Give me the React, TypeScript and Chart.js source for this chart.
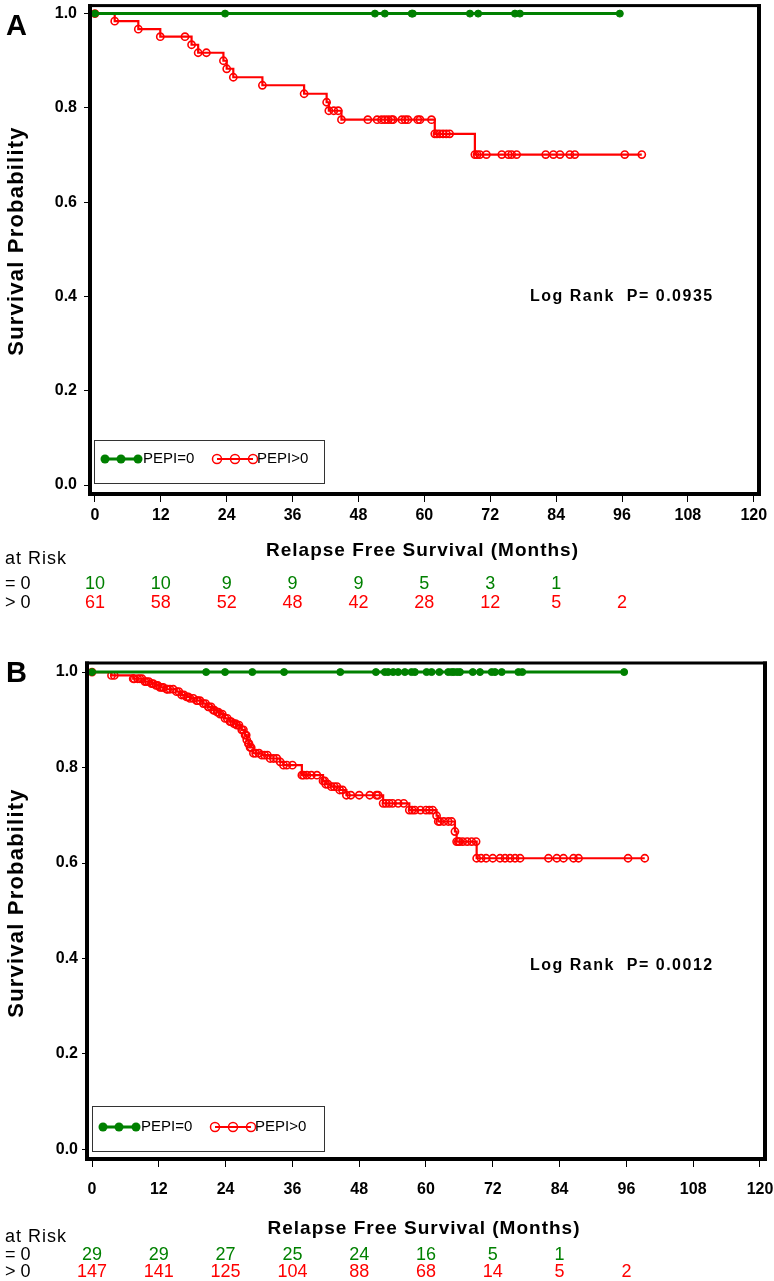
import React, { useEffect, useRef } from "react";
import { Chart, registerables } from "chart.js";

Chart.register(...registerables);

const FONT = "'Liberation Sans', Arial, Helvetica, sans-serif";
const GREEN = "#008000";
const RED = "#ff0000";

// ---- shared axis / table labels ----
const X_TICKS = [0, 12, 24, 36, 48, 60, 72, 84, 96, 108, 120];
const Y_TICKS = [0, 0.2, 0.4, 0.6, 0.8, 1.0];
const AT_RISK_TIMES = [0, 12, 24, 36, 48, 60, 72, 84, 96];
const LEGEND_LABELS = ["PEPI=0", "PEPI>0"];
const ROW_LABELS = ["= 0", "> 0"];
const X_TITLE = "Relapse Free Survival (Months)";
const Y_TITLE = "Survival Probability";

// ---- Panel A data ----
const A_GREEN_AT_RISK = [10, 10, 9, 9, 9, 5, 3, 1];
const A_RED_AT_RISK = [61, 58, 52, 48, 42, 28, 12, 5, 2];
const A_GREEN_CENSOR = [23.7, 51.0, 52.8, 57.7, 57.9, 68.3, 69.8, 76.5, 77.4, 95.6];
const A_RED_EVENT_T = [3.6, 7.9, 11.9, 17.6, 18.8, 23.4, 24.0, 25.2, 30.5, 38.1, 42.2, 42.6, 44.9, 61.9, 69.2];
const A_RED_EVENT_S = [0.984, 0.967, 0.951, 0.934, 0.917, 0.9, 0.883, 0.865, 0.848, 0.83, 0.812, 0.794, 0.775, 0.745, 0.701];
const A_RED_CENSOR = [16.4, 20.3, 43.5, 44.3, 49.7, 51.4, 52.2, 52.8, 53.4, 54.0, 54.3, 55.9, 56.5, 57.0, 58.8, 59.2, 61.3,
  62.3, 62.8, 63.4, 64.0, 64.6, 69.6, 70.1, 71.3, 74.1, 75.3, 75.9, 76.8, 82.1, 83.5, 84.7, 86.5, 87.4, 96.5, 99.6];
const A_P = "0.0935";

// ---- Panel B data ----
const B_GREEN_AT_RISK = [29, 29, 27, 25, 24, 16, 5, 1];
const B_RED_AT_RISK = [147, 141, 125, 104, 88, 68, 14, 5, 2];
const B_GREEN_CENSOR = [20.5, 23.9, 28.8, 34.5, 44.6, 51.0, 52.6, 53.2, 54.1, 55.0, 56.2, 57.4, 58.0, 60.1, 61.0, 62.4,
  64.0, 64.6, 65.0, 65.6, 66.1, 68.4, 69.7, 71.8, 72.4, 73.6, 76.6, 77.3, 95.6];
const B_RED_EVENT_T = [3.5, 7.4, 9.5, 10.7, 11.5, 12.2, 13.4, 15.2, 16.1, 17.0, 17.6, 18.8, 20.0, 20.9, 21.8, 22.5, 23.0,
  23.9, 24.8, 25.5, 26.0, 26.9, 27.5, 27.8, 28.1, 28.4, 29.0, 30.5, 32.0, 33.8, 34.4, 37.7, 41.5, 42.0, 43.0, 44.5, 45.7,
  52.3, 57.0, 61.9, 62.2, 65.2, 65.5, 69.1];
const B_RED_EVENT_S = [0.993, 0.986, 0.98, 0.976, 0.972, 0.968, 0.964, 0.959, 0.952, 0.948, 0.945, 0.94, 0.934, 0.927,
  0.92, 0.916, 0.912, 0.903, 0.896, 0.892, 0.889, 0.879, 0.868, 0.858, 0.85, 0.842, 0.83, 0.826, 0.819, 0.812, 0.805,
  0.784, 0.772, 0.765, 0.76, 0.753, 0.742, 0.725, 0.711, 0.699, 0.687, 0.666, 0.645, 0.61];
const B_RED_CENSOR = [4.0, 7.6, 8.2, 8.6, 9.0, 9.8, 10.2, 11.0, 11.8, 12.5, 12.8, 13.6, 14.0, 14.6, 15.6, 16.5, 17.3, 18.2,
  19.0, 19.4, 20.4, 21.0, 21.4, 22.0, 22.7, 23.4, 24.3, 25.0, 25.8, 26.4, 27.2, 27.7, 28.2, 28.6, 29.4, 30.0, 31.0, 31.5,
  32.6, 33.2, 35.0, 36.0, 38.0, 38.6, 39.4, 40.4, 41.8, 42.4, 43.5, 44.0, 45.0, 46.5, 48.0, 49.9, 51.1, 51.4, 52.8, 53.4,
  54.0, 55.0, 56.0, 57.5, 58.0, 59.0, 60.0, 60.6, 61.2, 62.5, 63.2, 64.0, 64.6, 65.8, 66.0, 66.6, 67.4, 68.2, 69.0, 69.9,
  70.8, 72.0, 73.3, 74.2, 75.1, 76.0, 76.9, 82.0, 83.5, 84.7, 86.5, 87.4, 96.3, 99.3];
const B_P = "0.0012";

type Pt = { x: number; y: number };

function buildKM(eventT: number[], eventS: number[], censorT: number[]): Pt[] {
  const survAt = (t: number) => {
    let s = 1;
    for (let i = 0; i < eventT.length; i++) if (eventT[i] <= t) s = eventS[i];
    return s;
  };
  const pts: (Pt & { k: number })[] = [{ x: 0, y: 1, k: 0 }];
  eventT.forEach((t, i) => pts.push({ x: t, y: eventS[i], k: 0 }));
  censorT.forEach((t) => pts.push({ x: t, y: survAt(t), k: 1 }));
  pts.sort((a, b) => a.x - b.x || a.k - b.k);
  return pts.map((p) => ({ x: p.x, y: p.y }));
}

type Cfg = {
  letter: string;
  h: number;
  area: { left: number; top: number; right: number; bottom: number };
  xMin: number; xMax: number; yMin: number; yMax: number;
  green: Pt[]; red: Pt[];
  greenRisk: number[]; redRisk: number[];
  p: string;
  letterY: number; yTitleY: number;
  logX: number; logY: number;
  legY: number; legH: number; legX: number; legW: number; legItemY: number;
  xTitleY: number; atRiskY: number; row1Y: number; row2Y: number;
  xPad: number; yPad: number; yTick: number;
};

const PANELS: Cfg[] = [
  {
    letter: "A", h: 625,
    area: { left: 90, top: 2, right: 759, bottom: 494 },
    xMin: -0.9, xMax: 120.95, yMin: -0.019, yMax: 1.017,
    green: buildKM([], [], A_GREEN_CENSOR), red: buildKM(A_RED_EVENT_T, A_RED_EVENT_S, A_RED_CENSOR),
    greenRisk: A_GREEN_AT_RISK, redRisk: A_RED_AT_RISK, p: A_P,
    letterY: 35, yTitleY: 241, logX: 530, logY: 297,
    legX: 94, legY: 440, legW: 230, legH: 43, legItemY: 459,
    xTitleY: 551, atRiskY: 559, row1Y: 584, row2Y: 603,
    xPad: 4, yPad: 7, yTick: 6,
  },
  {
    letter: "B", h: 656,
    area: { left: 87, top: 38, right: 765, bottom: 534 },
    xMin: -0.9, xMax: 120.9, yMin: -0.02, yMax: 1.019,
    green: buildKM([], [], B_GREEN_CENSOR), red: buildKM(B_RED_EVENT_T, B_RED_EVENT_S, B_RED_CENSOR),
    greenRisk: B_GREEN_AT_RISK, redRisk: B_RED_AT_RISK, p: B_P,
    letterY: 57, yTitleY: 278, logX: 530, logY: 341,
    legX: 92, legY: 481, legW: 232, legH: 45, legItemY: 502,
    xTitleY: 604, atRiskY: 612, row1Y: 630, row2Y: 647,
    xPad: 13, yPad: 4, yTick: 5,
  },
];

function txt(ctx: CanvasRenderingContext2D, s: string, x: number, y: number, font: string, color: string,
  align: CanvasTextAlign = "left", spacing = 0) {
  ctx.font = font;
  ctx.fillStyle = color;
  ctx.textAlign = align;
  ctx.textBaseline = "middle";
  (ctx as any).letterSpacing = spacing + "px";
  ctx.fillText(s, x, y);
  (ctx as any).letterSpacing = "0px";
}

function Panel({ cfg }: { cfg: Cfg }) {
  const ref = useRef<HTMLCanvasElement>(null);
  useEffect(() => {
    const canvas = ref.current!;
    const overlay = {
      id: "overlay",
      afterDraw(chart: any) {
        const ctx: CanvasRenderingContext2D = chart.ctx;
        const { left, top, right, bottom } = chart.chartArea;
        const xs = chart.scales.x;
        ctx.save();
        // frame
        ctx.fillStyle = "#000";
        ctx.fillRect(left - 2, top - 1.5, right - left + 4, 3);
        ctx.fillRect(left - 2, bottom - 2, right - left + 4, 4);
        ctx.fillRect(left - 2, top - 1.5, 4, bottom - top + 3.5);
        ctx.fillRect(right - 2, top - 1.5, 4, bottom - top + 3.5);
        // panel letter
        ctx.font = `bold 29px ${FONT}`;
        ctx.fillStyle = "#000";
        ctx.textAlign = "left";
        ctx.textBaseline = "alphabetic";
        ctx.fillText(cfg.letter, 6, cfg.letterY);
        // y title
        ctx.save();
        ctx.translate(17, cfg.yTitleY);
        ctx.rotate(-Math.PI / 2);
        txt(ctx, Y_TITLE, 0, 0, `bold 22px ${FONT}`, "#000", "center", 1.2);
        ctx.restore();
        // log rank
        txt(ctx, `Log Rank  P= ${cfg.p}`, cfg.logX, cfg.logY, `bold 16px ${FONT}`, "#000", "left", 1.5);
        // legend
        ctx.strokeStyle = "#333";
        ctx.lineWidth = 1;
        ctx.strokeRect(cfg.legX + 0.5, cfg.legY + 0.5, cfg.legW, cfg.legH);
        const iy = cfg.legItemY;
        ctx.strokeStyle = GREEN;
        ctx.lineWidth = 3;
        ctx.beginPath(); ctx.moveTo(cfg.legX + 10, iy); ctx.lineTo(cfg.legX + 45, iy); ctx.stroke();
        ctx.fillStyle = GREEN;
        [11, 27, 44].forEach((d) => { ctx.beginPath(); ctx.arc(cfg.legX + d, iy, 4.5, 0, Math.PI * 2); ctx.fill(); });
        txt(ctx, LEGEND_LABELS[0], cfg.legX + 49, iy, `15px ${FONT}`, "#000");
        ctx.strokeStyle = RED;
        ctx.lineWidth = 2;
        ctx.beginPath(); ctx.moveTo(cfg.legX + 123, iy); ctx.lineTo(cfg.legX + 159, iy); ctx.stroke();
        ctx.lineWidth = 1.5;
        [123, 141, 159].forEach((d) => { ctx.beginPath(); ctx.arc(cfg.legX + d, iy, 4.5, 0, Math.PI * 2); ctx.stroke(); });
        txt(ctx, LEGEND_LABELS[1], cfg.legX + 163, iy, `15px ${FONT}`, "#000");
        // x title
        txt(ctx, X_TITLE, (left + right) / 2 - 2, cfg.xTitleY, `bold 19px ${FONT}`, "#000", "center", 1);
        // at risk table
        txt(ctx, "at Risk", 5, cfg.atRiskY, `18px ${FONT}`, "#000", "left", 1);
        txt(ctx, ROW_LABELS[0], 5, cfg.row1Y, `18px ${FONT}`, "#000");
        txt(ctx, ROW_LABELS[1], 5, cfg.row2Y, `18px ${FONT}`, "#000");
        cfg.greenRisk.forEach((n, i) =>
          txt(ctx, String(n), xs.getPixelForValue(AT_RISK_TIMES[i]), cfg.row1Y, `18px ${FONT}`, GREEN, "center"));
        cfg.redRisk.forEach((n, i) =>
          txt(ctx, String(n), xs.getPixelForValue(AT_RISK_TIMES[i]), cfg.row2Y, `18px ${FONT}`, RED, "center"));
        ctx.restore();
      },
    };
    const chart = new Chart(canvas, {
      type: "line",
      data: {
        datasets: [
          {
            data: cfg.green, borderColor: GREEN, borderWidth: 3, stepped: true,
            pointRadius: 3.5, pointBackgroundColor: GREEN, pointBorderColor: GREEN, pointBorderWidth: 1,
          },
          {
            data: cfg.red, borderColor: RED, borderWidth: 2.2, stepped: true,
            pointRadius: 3.6, pointBackgroundColor: "rgba(0,0,0,0)", pointBorderColor: RED, pointBorderWidth: 1.6,
          },
        ],
      },
      options: {
        animation: false,
        responsive: false,
        devicePixelRatio: 1,
        layout: { padding: { top: cfg.area.top, right: 774 - cfg.area.right, left: 0, bottom: 0 } },
        plugins: { legend: { display: false }, tooltip: { enabled: false } },
        scales: {
          x: {
            type: "linear", min: cfg.xMin, max: cfg.xMax,
            afterBuildTicks: (s: any) => { s.ticks = X_TICKS.map((v) => ({ value: v })); },
            afterFit: (s: any) => { s.height = cfg.h - cfg.area.bottom; s.paddingLeft = 0; s.paddingRight = 0; },
            ticks: {
              font: { family: FONT, size: 16, weight: "bold" }, color: "#000", padding: cfg.xPad,
              maxRotation: 0, autoSkip: false, callback: (v: any) => String(v),
            },
            grid: { drawOnChartArea: false, drawTicks: true, tickLength: 8, color: "#000", tickWidth: 1 },
            border: { display: false },
          },
          y: {
            type: "linear", min: cfg.yMin, max: cfg.yMax,
            afterBuildTicks: (s: any) => { s.ticks = Y_TICKS.map((v) => ({ value: v })); },
            afterFit: (s: any) => { s.width = cfg.area.left; s.paddingTop = 0; s.paddingBottom = 0; },
            ticks: {
              font: { family: FONT, size: 16, weight: "bold" }, color: "#000", padding: cfg.yPad,
              autoSkip: false, callback: (v: any) => Number(v).toFixed(1),
            },
            grid: { drawOnChartArea: false, drawTicks: true, tickLength: cfg.yTick, color: "#000", tickWidth: 1 },
            border: { display: false },
          },
        },
      } as any,
      plugins: [overlay],
    });
    return () => chart.destroy();
  }, [cfg]);
  return <canvas ref={ref} width={774} height={cfg.h} style={{ display: "block", width: 774, height: cfg.h }} />;
}

export default function App() {
  return (
    <div style={{ position: "absolute", left: 0, top: 0, width: 774, height: 1281, background: "#fff" }}>
      {PANELS.map((c) => (
        <Panel key={c.letter} cfg={c} />
      ))}
    </div>
  );
}
